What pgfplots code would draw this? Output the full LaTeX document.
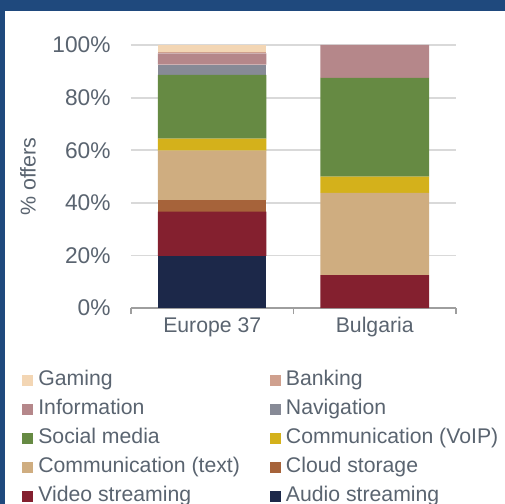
\documentclass[border=0pt]{standalone}
\usepackage{pgfplots}
\pgfplotsset{compat=1.18}
\usepackage{fontspec}
\setmainfont{Liberation Sans}
\definecolor{frameblue}{HTML}{1F497D}
\definecolor{txt}{HTML}{5A6470}
\definecolor{cGaming}{HTML}{F3D6B4}
\definecolor{cBanking}{HTML}{CFA08E}
\definecolor{cInfo}{HTML}{B5878A}
\definecolor{cNav}{HTML}{878A96}
\definecolor{cSocial}{HTML}{668A43}
\definecolor{cVoip}{HTML}{D4B11B}
\definecolor{cText}{HTML}{CFAD80}
\definecolor{cCloud}{HTML}{A6633A}
\definecolor{cVideo}{HTML}{84202F}
\definecolor{cAudio}{HTML}{1C2849}
\begin{document}
\begin{tikzpicture}
\fill[white] (-131bp,-196bp) rectangle (374bp,308bp);
\fill[frameblue] (-131bp,297bp) rectangle (374bp,308bp);
\fill[frameblue] (-131bp,-196bp) rectangle (-126bp,308bp);
\begin{axis}[
  at={(0,0)}, anchor=south west,
  scale only axis, width=325bp, height=263bp,
  ybar stacked, bar width=108.5bp,
  xmin=-0.5, xmax=1.5, ymin=0, ymax=100,
  xtick={0,1}, xticklabels={Europe 37, Bulgaria},
  minor xtick={-0.5,0.5,1.5},
  ytick={0,20,40,60,80,100},
  yticklabel={\pgfmathprintnumber{\tick}\%},
  /pgf/number format/assume math mode=true,
  axis lines*=left,
  y axis line style={draw=none},
  x axis line style={draw=black!38, line width=1.6bp},
  major tick length=0pt,
  minor tick length=6bp,
  minor x tick style={draw=black!38, line width=1.6bp},
  tick align=outside,
  ymajorgrids,
  major grid style={draw=black!15, line width=1.8bp},
  xticklabel style={font=\fontsize{21.3}{25}\selectfont, text=txt, yshift=-6bp},
  yticklabel style={font=\fontsize{22.8}{27}\selectfont, text=txt, xshift=-17bp},
  ylabel={\% offers},
  every axis y label/.style={at={(axis description cs:-0.317,0.5)}, rotate=90, anchor=center, font=\fontsize{21.5}{25}\selectfont, text=txt},
  every axis plot/.append style={draw=none},
  reverse legend,
  legend columns=2,
  legend cell align=left,
  legend image code/.code={\fill[#1] (0bp,-5.5bp) rectangle (11bp,5.5bp);},
  legend style={anchor=north west, at={(axis description cs:-0.335,-0.235)},
    draw=none, fill=none, inner sep=0pt, row sep=9bp,
    font=\fontsize{21.3}{25}\selectfont, text=txt,
    nodes={inner sep=0pt, text height=15bp, text depth=5bp},
    /tikz/every odd column/.append style={column sep=5bp},
    /tikz/every even column/.append style={column sep=30bp}},
]
\addplot[fill=cAudio] coordinates {(0,19.8) (1,0)};
\addlegendentry{Audio streaming}
\addplot[fill=cVideo] coordinates {(0,16.8) (1,12.5)};
\addlegendentry{Video streaming}
\addplot[fill=cCloud] coordinates {(0,4.5) (1,0)};
\addlegendentry{Cloud storage}
\addplot[fill=cText] coordinates {(0,18.7) (1,31.25)};
\addlegendentry{Communication (text)}
\addplot[fill=cVoip] coordinates {(0,4.6) (1,6.25)};
\addlegendentry{Communication (VoIP)}
\addplot[fill=cSocial] coordinates {(0,24.2) (1,37.5)};
\addlegendentry{Social media}
\addplot[fill=cNav] coordinates {(0,3.9) (1,0)};
\addlegendentry{Navigation}
\addplot[fill=cInfo] coordinates {(0,4.3) (1,12.5)};
\addlegendentry{Information}
\addplot[fill=cBanking] coordinates {(0,0.7) (1,0)};
\addlegendentry{Banking}
\addplot[fill=cGaming] coordinates {(0,2.5) (1,0)};
\addlegendentry{Gaming}
\end{axis}
\pgfresetboundingbox
\useasboundingbox (-131bp,-196bp) rectangle (374bp,308bp);
\end{tikzpicture}
\end{document}
